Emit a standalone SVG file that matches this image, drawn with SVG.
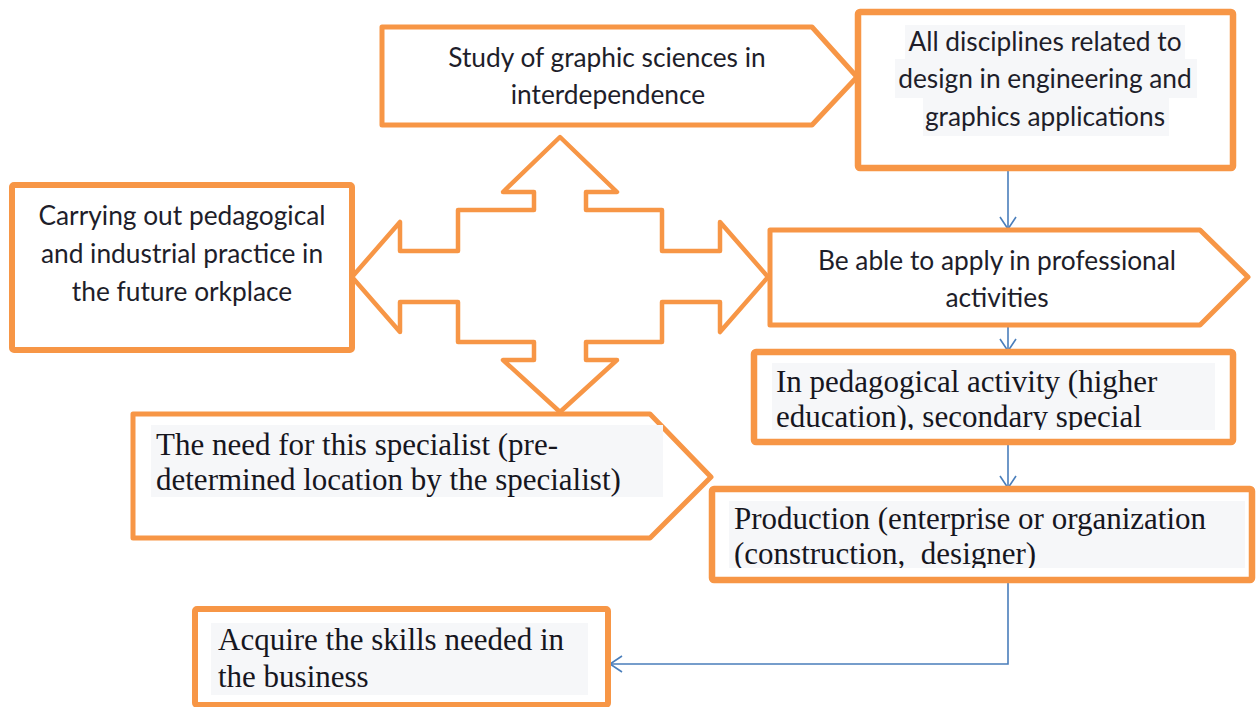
<svg xmlns="http://www.w3.org/2000/svg" width="1259" height="707" viewBox="0 0 1259 707">
<style>
.box{fill:#ffffff;stroke:#F79646;stroke-linejoin:round}
.sans{font-family:Lato,"Open Sans","Liberation Sans",sans-serif;font-size:26.3px;fill:#1e1e2a;text-anchor:middle}
.serif{font-family:"Liberation Serif","Times New Roman",serif;font-size:31px;fill:#16161e}
.hl{fill:#f6f7f9}
.conn{fill:none;stroke:#4A7EBB;stroke-width:1.6}
</style>
<defs>
<marker id="open" markerUnits="userSpaceOnUse" markerWidth="20" markerHeight="20" viewBox="0 0 20 20" refX="15" refY="10" orient="auto">
<path d="M3,2 L15,10 L3,18" fill="none" stroke="#4A7EBB" stroke-width="1.6"/>
</marker>
<clipPath id="clipPed"><rect x="760" y="358" width="466" height="72"/></clipPath>
<clipPath id="clipProd"><rect x="718" y="495" width="528" height="73"/></clipPath>
</defs>
<rect width="1259" height="707" fill="#ffffff"/>

<g id="connectors">
<path class="conn" d="M1008,168 L1008,229" marker-end="url(#open)"/>
<path class="conn" d="M1008,327 L1008,351" marker-end="url(#open)"/>
<path class="conn" d="M1008,445 L1008,488" marker-end="url(#open)"/>
<path class="conn" d="M1008,582 L1008,664 L610,664" marker-end="url(#open)"/>
</g>

<g id="cross">
<polygon class="box" stroke-width="4.5" points="560,137 617,192 586,192 586,210 662,210 662,251 720,251 720,222 768,277 720,332 720,302 662,302 662,342 586,342 586,360 617,360 560,412 503,360 534,360 534,342 458,342 458,302 400,302 400,332 352,277 400,222 400,251 458,251 458,210 534,210 534,192 503,192"/>
</g>

<g id="node-study">
<polygon class="box" stroke-width="5" points="382,27 812,27 857,77 812,125 382,125"/>
<text class="sans" x="607" y="67">Study of graphic sciences in</text>
<text class="sans" x="608" y="104">interdependence</text>
</g>

<g id="node-disciplines">
<rect class="box" stroke-width="6.5" x="858" y="12" width="375" height="156" rx="2"/>
<rect class="hl" x="905" y="25" width="280" height="34"/>
<rect class="hl" x="895" y="59" width="302" height="39"/>
<rect class="hl" x="923" y="98" width="246" height="38"/>
<text class="sans" x="1045" y="51">All disciplines related to</text>
<text class="sans" x="1045" y="88">design in engineering and</text>
<text class="sans" x="1045" y="126">graphics applications</text>
</g>

<g id="node-practice">
<rect class="box" stroke-width="6" x="12" y="185" width="340" height="165" rx="2"/>
<text class="sans" x="182" y="225">Carrying out pedagogical</text>
<text class="sans" x="182" y="263">and industrial practice in</text>
<text class="sans" x="182" y="301">the future orkplace</text>
</g>

<g id="node-apply">
<polygon class="box" stroke-width="5" points="770,230 1200,230 1248,277 1200,325 770,325"/>
<text class="sans" x="997" y="270">Be able to apply in professional</text>
<text class="sans" x="997" y="307">activities</text>
</g>

<g id="node-pedagogical">
<rect class="box" stroke-width="6.5" x="754" y="352" width="479" height="90" rx="2"/>
<rect class="hl" x="772" y="363" width="443" height="67"/>
<g clip-path="url(#clipPed)">
<text class="serif" x="776" y="392">In pedagogical activity (higher</text>
<text class="serif" x="776" y="427">education), secondary special</text>
</g>
</g>

<g id="node-need">
<polygon class="box" stroke-width="5" points="133,414 650,414 711,477 650,538 133,538"/>
<rect class="hl" x="151" y="425" width="512" height="72"/>
<text class="serif" x="156" y="455">The need for this specialist (pre-</text>
<text class="serif" x="156" y="490">determined location by the specialist)</text>
</g>

<g id="node-production">
<rect class="box" stroke-width="6.5" x="712" y="489" width="540" height="91" rx="2"/>
<rect class="hl" x="729" y="501" width="516" height="67"/>
<g clip-path="url(#clipProd)">
<text class="serif" x="734" y="529">Production (enterprise or organization</text>
<text class="serif" x="734" y="564">(construction,&#160; designer)</text>
</g>
</g>

<g id="node-acquire">
<rect class="box" stroke-width="6" x="195" y="609" width="413" height="96" rx="2"/>
<rect class="hl" x="211" y="623" width="377" height="72"/>
<text class="serif" x="218" y="650">Acquire the skills needed in</text>
<text class="serif" x="218" y="687">the business</text>
</g>
</svg>
